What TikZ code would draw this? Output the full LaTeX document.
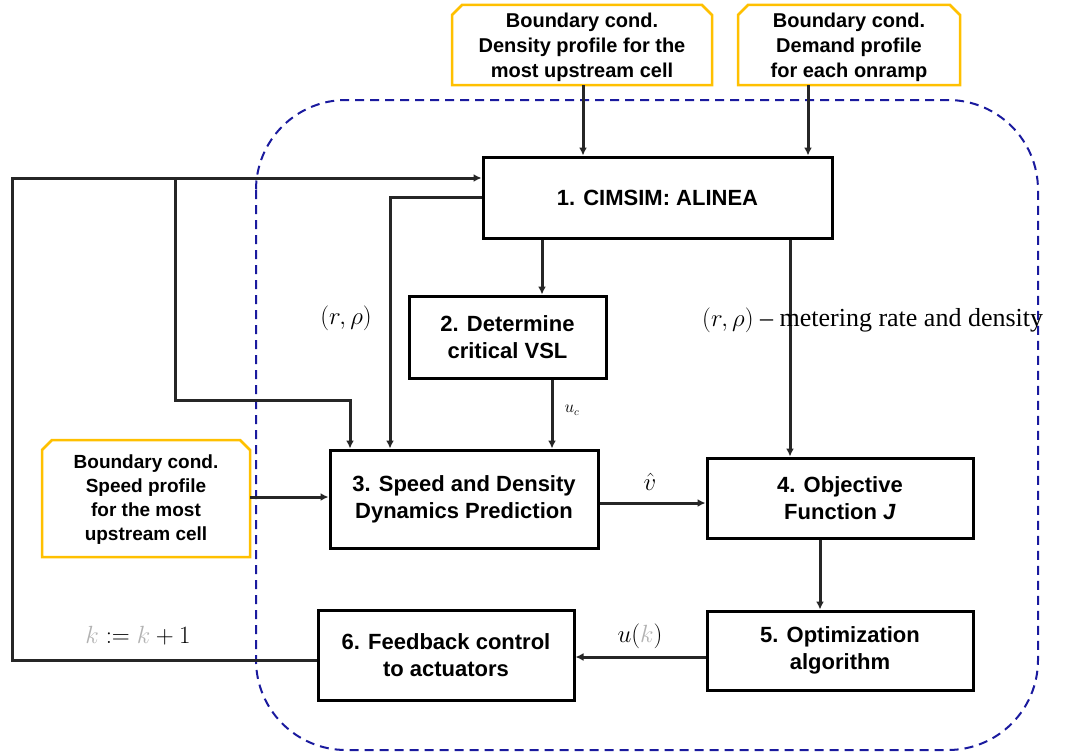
\documentclass[tikz,border=0pt]{standalone}
\usepackage{fontspec}
\setmainfont{Liberation Sans}
\newfontfamily\serifa{Liberation Serif}
\usetikzlibrary{arrows.meta,calc}
\definecolor{bndorange}{HTML}{FFC000}
\definecolor{dashblue}{HTML}{1A1A9E}
\tikzset{
  procbox/.style={draw=black,line width=3pt,rectangle,align=center,inner sep=2pt,
     font=\fontsize{22}{27}\selectfont\bfseries},
  bndtext/.style={align=center,inner sep=0pt,font=\fontsize{20}{25}\selectfont\bfseries},
  bndline/.style={draw=bndorange,line width=2.5pt},
  conn/.style={draw=black!85,line width=3pt},
  arr/.style={conn,-{Latex[length=8pt,width=8pt]}},
  mathlbl/.style={inner sep=0pt,font=\fontsize{26}{26}\selectfont},
}
\newcommand{\chamferbox}[5]{% name, x1, y1, x2, y2
  \draw[bndline] (#2,#5) -- (#2,#3+10) -- (#2+10,#3) -- (#4-10,#3) -- (#4,#3+10) -- (#4,#5) -- cycle;
}
\begin{document}
\begin{tikzpicture}[x=1pt,y=-1pt]
\useasboundingbox (0,0) rectangle (1068,752);
% dashed boundary
\draw[dashblue,line width=2pt,dash pattern=on 9pt off 6pt,rounded corners=90pt] (256,100) rectangle (1038,750);

% boundary condition boxes
\chamferbox{tb1}{452}{5}{712}{85}
\node[bndtext] (tb1) at (582,47) {Boundary cond.\\Density profile for the\\most upstream cell};
\chamferbox{tb2}{738}{5}{960}{85}
\node[bndtext] (tb2) at (849,47) {Boundary cond.\\Demand profile\\for each onramp};
\chamferbox{lb}{42}{440}{250}{557}
\node[bndtext,font=\fontsize{19}{24}\selectfont\bfseries] (lb) at (146,500) {Boundary cond.\\Speed profile\\for the most\\upstream cell};

% process boxes
\node[procbox,minimum width=349pt,minimum height=81pt] (b1) at (657.5,197.5) {1. CIMSIM: ALINEA};
\node[procbox,minimum width=197pt,minimum height=82pt] (b2) at (507.5,337) {2. Determine\\critical VSL};
\node[procbox,minimum width=268pt,minimum height=98pt] (b3) at (464,499) {3. Speed and Density\\Dynamics Prediction};
\node[procbox,minimum width=266pt,minimum height=80pt] (b4) at (840,498) {4. Objective\\Function \textit{J}};
\node[procbox,minimum width=266pt,minimum height=79pt] (b5) at (840,650.5) {5. Optimization\\algorithm};
\node[procbox,minimum width=256pt,minimum height=90pt] (b6) at (446,655) {6. Feedback control\\to actuators};

% helper coordinates
\coordinate (tb1out) at (583,85);
\coordinate (tb2out) at (808,85);
\coordinate (yA) at (0,178);
\coordinate (yB) at (0,197);
\coordinate (y497) at (0,497);
\coordinate (y503) at (0,503);
\coordinate (y657) at (0,657);
\coordinate (y660) at (0,660);
\coordinate (fbL) at (12,660);
\coordinate (fbT) at (12,178);
\coordinate (brA) at (175,178);
\coordinate (brB) at (175,400);
\coordinate (brC) at (350,400);
\coordinate (rpA) at (390,197);
\coordinate (x542) at (542,0);
\coordinate (x552) at (552,0);
\coordinate (x790) at (790,0);
\coordinate (x820) at (820,0);
\coordinate (x350) at (350,0);
\coordinate (x390) at (390,0);
\coordinate (x250) at (250,0);

% connectors
\draw[arr] (tb1out) -- (tb1out |- b1.north);
\draw[arr] (tb2out) -- (tb2out |- b1.north);
\draw[arr] (b6.west |- y660) -- (fbL) -- (fbT) -- (b1.west |- yA);
\draw[arr] (brA) -- (brB) -- (brC) -- (x350 |- b3.north);
\draw[arr] (b1.west |- yB) -- (rpA) -- (x390 |- b3.north);
\draw[arr] (x542 |- b1.south) -- (x542 |- b2.north);
\draw[arr] (x552 |- b2.south) -- (x552 |- b3.north);
\draw[arr] (x790 |- b1.south) -- (x790 |- b4.north);
\draw[arr] (x250 |- y497) -- (b3.west |- y497);
\draw[arr] (b3.east |- y503) -- (b4.west |- y503);
\draw[arr] (x820 |- b4.south) -- (x820 |- b5.north);
\draw[arr] (b5.west |- y657) -- (b6.east |- y657);

% labels
\node[mathlbl] (lrp) at (346,318) {$(r,\rho)$};
\node[mathlbl,anchor=west] (lrp2) at (702,320) {\serifa $(r,\rho)$ \textendash\ metering rate and density};
\node[mathlbl,font=\fontsize{28}{28}\selectfont] (lv) at (650,482) {$\hat{v}$};
\node[inner sep=0pt,font=\fontsize{16}{16}\selectfont] (luc) at (572,410) {$u_c$};
\node[mathlbl] (luk) at (640,636) {$u({\color{black!30}k})$};
\node[mathlbl] (lk) at (138,636) {${\color{black!30}k} := {\color{black!30}k} + 1$};
\end{tikzpicture}
\end{document}
